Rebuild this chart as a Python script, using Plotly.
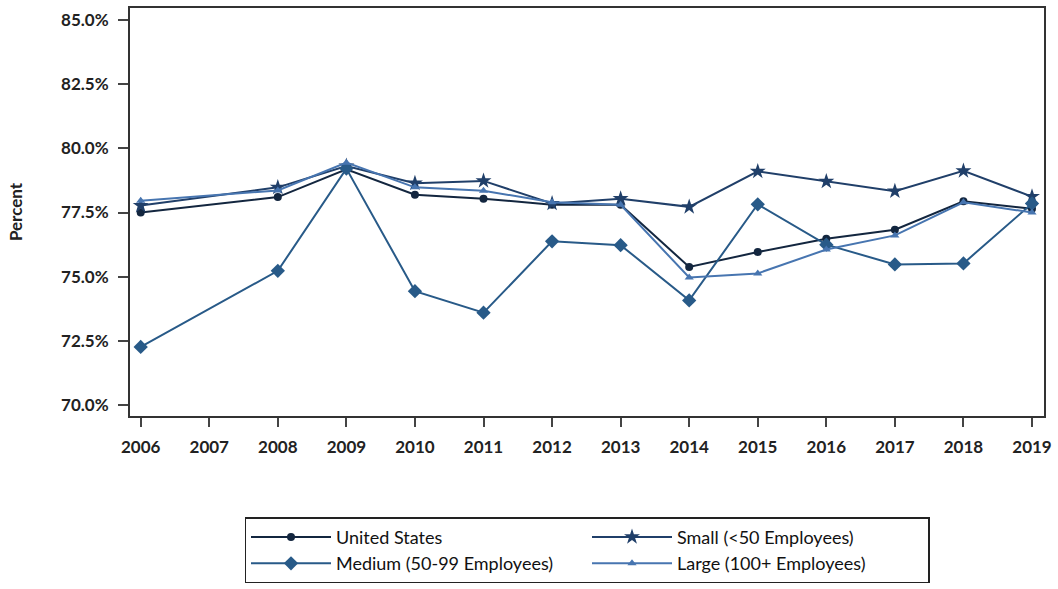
import plotly.graph_objects as go

# ——— Data (percent) ———
years = [2006, 2008, 2009, 2010, 2011, 2012, 2013, 2014, 2015, 2016, 2017, 2018, 2019]
tick_years = list(range(2006, 2020))

us     = [77.50, 78.10, 79.18, 78.19, 78.04, 77.80, 77.80, 75.38, 75.96, 76.48, 76.83, 77.94, 77.65]
small  = [77.77, 78.48, 79.31, 78.64, 78.73, 77.85, 78.04, 77.72, 79.10, 78.71, 78.33, 79.12, 78.12]
medium = [72.27, 75.23, 79.21, 74.44, 73.60, 76.38, 76.23, 74.08, 77.82, 76.25, 75.48, 75.52, 77.85]
large  = [77.96, 78.36, 79.44, 78.48, 78.35, 77.90, 77.80, 74.97, 75.13, 76.06, 76.61, 77.90, 77.50]

y_ticks = [70.0, 72.5, 75.0, 77.5, 80.0, 82.5, 85.0]
y_labels = [f"{v:.1f}%" for v in y_ticks]
# ——————————————————

FONT = "Lato"

series = [
    ("United States", us, "#13263f", "circle", 8),
    ("Small (<50 Employees)", small, "#203f69", "star", 12),
    ("Medium (50-99 Employees)", medium, "#285a88", "diamond", 11),
    ("Large (100+ Employees)", large, "#4775b0", "triangle-up", 8),
]

fig = go.Figure()
for name, vals, col, sym, size in series:
    fig.add_trace(go.Scatter(
        x=years, y=vals, name=name, mode="lines+markers",
        line=dict(color=col, width=2),
        marker=dict(symbol=sym, size=size, color=col),
    ))

fig.update_layout(
    width=1058, height=589,
    margin=dict(l=130, r=13, t=6, b=168),
    paper_bgcolor="white", plot_bgcolor="white",
    font=dict(family=FONT, size=16, color="#222"),
    legend=dict(
        orientation="h", x=0.5, y=-0.248, xanchor="center", yanchor="top",
        bordercolor="#222", borderwidth=1.5, itemwidth=80,
        entrywidth=246, entrywidthmode="pixels",
        font=dict(family=FONT, size=18, color="#111"),
        tracegroupgap=0,
    ),
)

fig.update_xaxes(
    range=[2005.844, 2019.175], tickvals=tick_years,
    showgrid=False, zeroline=False,
    showline=True, linecolor="#333", linewidth=2, mirror=True,
    ticks="outside", ticklen=9, tickwidth=1.5, tickcolor="#444",
    ticklabelstandoff=6,
    tickfont=dict(family=FONT, size=17, color="#222", weight="bold"),
)
fig.update_yaxes(
    range=[69.58, 85.46], tickvals=y_ticks, ticktext=y_labels,
    showgrid=False, zeroline=False,
    showline=True, linecolor="#333", linewidth=2, mirror=True,
    ticks="outside", ticklen=10, tickwidth=1.5, tickcolor="#444",
    ticklabelstandoff=6,
    tickfont=dict(family=FONT, size=17, color="#222", weight="bold"),
    title=dict(text="<b>Percent</b>", standoff=34, font=dict(family=FONT, size=17)),
)

# drop the default page margin so the figure sits at the window origin
fig.write_html(
    "out.html",
    config={"displayModeBar": False},
    post_script="document.body.style.margin='0';document.body.style.overflow='hidden';",
)
